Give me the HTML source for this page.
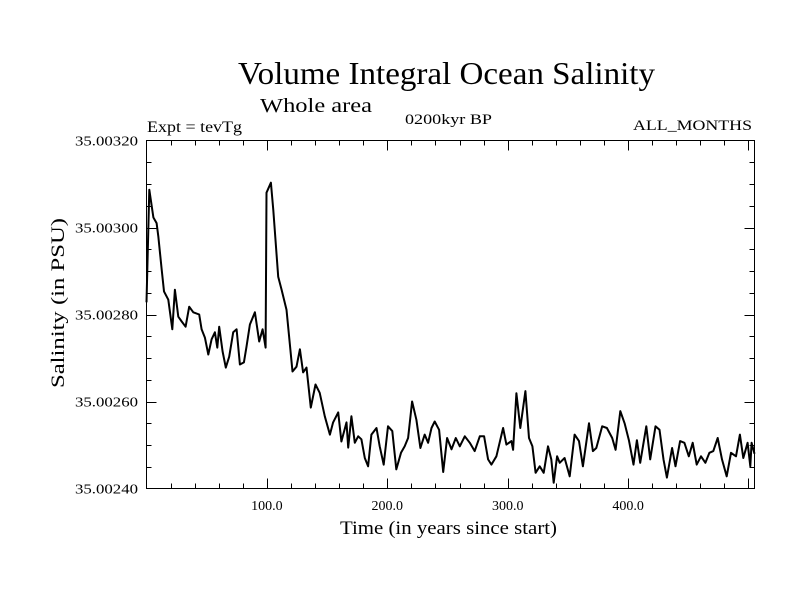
<!DOCTYPE html>
<html><head><meta charset="utf-8"><style>body{margin:0;background:#fff}svg{display:block}text{font-family:"Liberation Serif",serif;fill:#000}</style></head>
<body>
<svg id="chart" width="800" height="600" viewBox="0 0 800 600">
<text x="238" y="84" font-size="32" textLength="417" lengthAdjust="spacingAndGlyphs">Volume Integral Ocean Salinity</text>
<text x="260" y="112" font-size="20" textLength="112" lengthAdjust="spacingAndGlyphs">Whole area</text>
<text x="147" y="132" font-size="16" textLength="95" lengthAdjust="spacingAndGlyphs">Expt = tevTg</text>
<text x="405" y="124" font-size="15" textLength="87" lengthAdjust="spacingAndGlyphs">0200kyr BP</text>
<text x="633" y="130" font-size="15" textLength="119" lengthAdjust="spacingAndGlyphs">ALL_MONTHS</text>
<text x="340" y="534" font-size="19" textLength="217" lengthAdjust="spacingAndGlyphs">Time (in years since start)</text>
<text x="0" y="0" font-size="19" textLength="170" lengthAdjust="spacingAndGlyphs" transform="translate(64,388) rotate(-90)">Salinity (in PSU)</text>
<g id="axes"></g>
<path id="series" fill="none" stroke="#000" stroke-width="2" stroke-linejoin="round"></path>
<rect x="146.5" y="140.5" width="608" height="348" fill="none" stroke="#000" stroke-width="1"></rect>
</svg>
<script>
const years=[0,2.3,5.7,8.4,9.8,12.6,14.5,18.1,21.4,23.6,26.4,29.2,32.5,35.5,38.9,43.8,45.8,48.5,51.3,54.1,56.8,58.8,60.4,63.2,65.9,68.7,72,74.8,77.6,80.9,83.1,85.9,90,93.6,96.4,98.9,99.7,103.3,105.3,109.4,112.2,116.3,121.3,124.6,127.4,130.1,132.9,136.5,140.4,143.9,148.1,152.3,155,159.2,161.9,166.1,167.5,170.2,173,175.8,178.5,181.3,184.1,186.8,191,193.7,197,200.6,204.2,207.5,211.4,214.5,217.3,220.6,224.2,227.5,231.1,233.9,236.7,239.4,243,246.4,249.7,253.3,256.9,260.2,264.4,268.5,272.6,276.8,280.4,283.7,286.5,290.6,296.2,298.9,303.1,304.5,307.2,310.5,314.7,317.7,320.5,323.2,326.6,329.9,333.5,336.2,338.2,341,343.2,347.3,351.5,355.6,359.2,362.5,367.5,370.8,373.6,378.5,382.4,386.8,389.6,393.5,397.1,400.7,404.5,407.3,410.1,415.1,418.4,422.8,426.1,429.4,432.2,436.6,439.4,443.2,446.8,450.4,453.7,457,460.6,464.2,467.5,470.8,474.4,478,481.9,485.5,489.6,492.9,495.7,499.3,501.5,502.6,505];
const salinityOffset=[42.8,68.7,62.3,61,58,50.3,45.3,43.4,36.6,45.7,39.5,38.4,37.2,41.8,40.5,40,36.6,34.7,30.8,34.3,35.9,32.4,37.2,31.5,27.8,30.3,35.9,36.6,28.5,29,32.6,37.7,40.5,33.8,36.6,32.4,68,70.3,64,48.7,45.7,41.1,26.9,28,32,26.7,27.8,18.6,23.9,22,16.6,12.4,15.2,17.5,10.8,15.2,9.4,16.6,10.5,12,11.3,7,5.1,12.4,13.9,9.7,5.5,14.3,13.2,4.4,8.2,9.7,11.6,20,15.8,9.3,12.4,10.5,13.9,15.4,13.5,3.8,11.6,9,11.6,9.7,12,10.5,8.6,12,12,6.7,5.5,7.4,13.9,10.1,10.9,8.9,21.9,13.9,22.4,11.6,9.7,3.6,5.1,3.6,9.7,6.7,1.3,7.4,5.9,7,2.8,12.4,10.9,5.1,15,8.6,9.3,14.3,13.9,11.6,8.9,17.8,15,11.1,5.5,11.1,5.9,14.3,6.7,14.3,13.5,6.7,2.5,9.3,5.1,10.9,10.5,7.4,10.5,5.5,7.4,5.9,8.2,8.6,11.6,6.7,2.8,8.2,7.4,12.4,7,10.5,5.1,10.5,8];
const xTickLabels=["100.0","200.0","300.0","400.0"];
const xTickValues=[100,200,300,400];
const yTickLabels=["35.00240","35.00260","35.00280","35.00300","35.00320"];
const yTickValues=[35.0024,35.0026,35.0028,35.003,35.0032];
const X0=146.5,X1=754.5,Y0=488.5,Y1=140.5,XMAX=505;
const sx=v=>X0+(v/XMAX)*(X1-X0);
const sy=v=>Y0-((v-35.0024)/0.0008)*(Y0-Y1);
const NS='http://www.w3.org/2000/svg';
const axes=document.getElementById('axes');
function line(x1,y1,x2,y2,name){const l=document.createElementNS(NS,'line');l.setAttribute('x1',x1);l.setAttribute('y1',y1);l.setAttribute('x2',x2);l.setAttribute('y2',y2);l.setAttribute('stroke','#000');


axes.appendChild(l);}
for(let v=20;v<XMAX;v+=20){const x=Math.round(sx(v))+0.5;const big=v%100===0;const L=big?10:5;line(x,Y0,x,Y0-L,'x-tick');line(x,Y1,x,Y1+L,'x-tick-top');}
for(let k=1;k<16;k++){const v=35.0024+k*0.00005;const y=Math.round(sy(v))+0.5;const big=k%4===0;const L=big?10:5;line(X0,y,X0+L,y,'y-tick');line(X1,y,X1-L,y,'y-tick-right');}
xTickLabels.forEach((t,i)=>{const e=document.createElementNS(NS,'text');e.setAttribute('x',sx(xTickValues[i]));e.setAttribute('y',510);e.setAttribute('font-size','14');e.setAttribute('text-anchor','middle');e.textContent=t;


axes.appendChild(e);});
yTickLabels.forEach((t,i)=>{const e=document.createElementNS(NS,'text');e.setAttribute('x',138);e.setAttribute('y',sy(yTickValues[i])+5);e.setAttribute('font-size','14');e.setAttribute('text-anchor','end');e.setAttribute('textLength','63');e.setAttribute('lengthAdjust','spacingAndGlyphs');e.textContent=t;


axes.appendChild(e);});
let d='';years.forEach((yr,i)=>{d+=(i?'L':'M')+sx(yr).toFixed(1)+','+sy(35.0024+salinityOffset[i]*1e-5).toFixed(1);});
document.getElementById('series').setAttribute('d',d);
</script>
</body></html>
